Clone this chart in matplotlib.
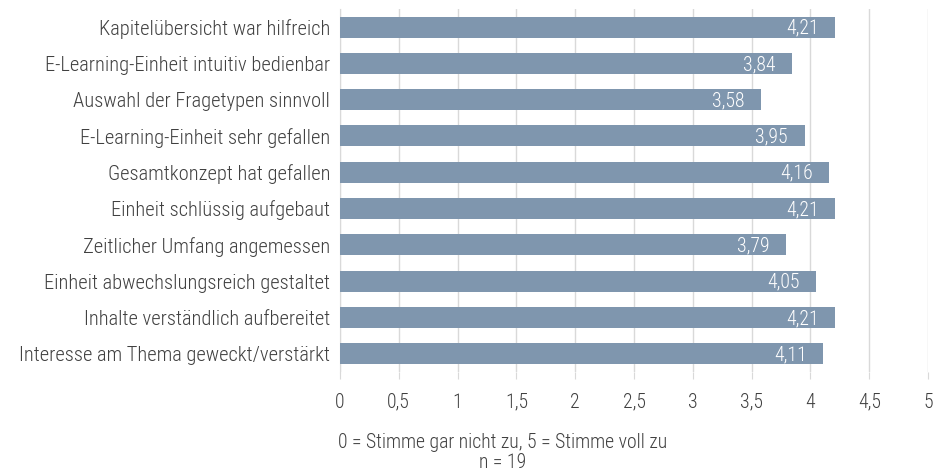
import matplotlib
matplotlib.use("Agg")
import matplotlib.pyplot as plt
from matplotlib import font_manager

categories = [
    "Kapitelübersicht war hilfreich",
    "E-Learning-Einheit intuitiv bedienbar",
    "Auswahl der Fragetypen sinnvoll",
    "E-Learning-Einheit sehr gefallen",
    "Gesamtkonzept hat gefallen",
    "Einheit schlüssig aufgebaut",
    "Zeitlicher Umfang angemessen",
    "Einheit abwechslungsreich gestaltet",
    "Inhalte verständlich aufbereitet",
    "Interesse am Thema geweckt/verstärkt",
]
values = [4.21, 3.84, 3.58, 3.95, 4.16, 4.21, 3.79, 4.05, 4.21, 4.11]
xticks = [0, 0.5, 1, 1.5, 2, 2.5, 3, 3.5, 4, 4.5, 5]

avail = {f.name for f in font_manager.fontManager.ttflist}
fams = [f for f in ["Liberation Sans Narrow", "Roboto Condensed", "Liberation Sans"] if f in avail] + ["DejaVu Sans"]
plt.rcParams["font.family"] = fams
plt.rcParams["font.weight"] = "light"

text_col = "#404040"
bar_col = "#7f96ae"
fs = 14.2

fig = plt.figure(figsize=(9.47, 4.70), dpi=100)
ax = fig.add_axes([0.359, 0.209, 0.621, 0.772])

y = list(range(len(categories)))
ax.barh(y, values, height=0.58, color=bar_col, zorder=3)
for yi, v in zip(y, values):
    ax.text(v - 0.14, yi + 0.03, f"{v:.2f}".replace(".", ","), ha="right", va="center",
            color="white", fontsize=fs, fontweight="light", zorder=4)

ax.set_xlim(0, 5)
ax.set_ylim(len(categories) - 0.5, -0.5)
ax.set_yticks(y)
ax.set_yticklabels(categories, fontsize=14.8, color=text_col, fontweight="light")
ax.set_xticks(xticks)
ax.set_xticklabels([("%g" % t).replace(".", ",") for t in xticks], fontsize=fs, color=text_col,
                   fontweight="light")
ax.tick_params(axis="y", length=0, pad=7)
ax.tick_params(axis="x", length=5, color="#d9d9d9", pad=10)
ax.grid(axis="x", color="#d9d9d9", linewidth=1, zorder=0)
for s in ["top", "right", "bottom"]:
    ax.spines[s].set_visible(False)
ax.spines["left"].set_color("#d9d9d9")
ax.spines["left"].set_zorder(1)

xc = 503 / 947
fig.text(xc, 1 - 442 / 470, "0 = Stimme gar nicht zu, 5 = Stimme voll zu", fontsize=fs, color=text_col,
         ha="center", va="center", fontweight="light")
fig.text(xc, 1 - 462 / 470, "n = 19", fontsize=fs, color=text_col, ha="center", va="center",
         fontweight="light")

fig.savefig("out.png", dpi=100)
